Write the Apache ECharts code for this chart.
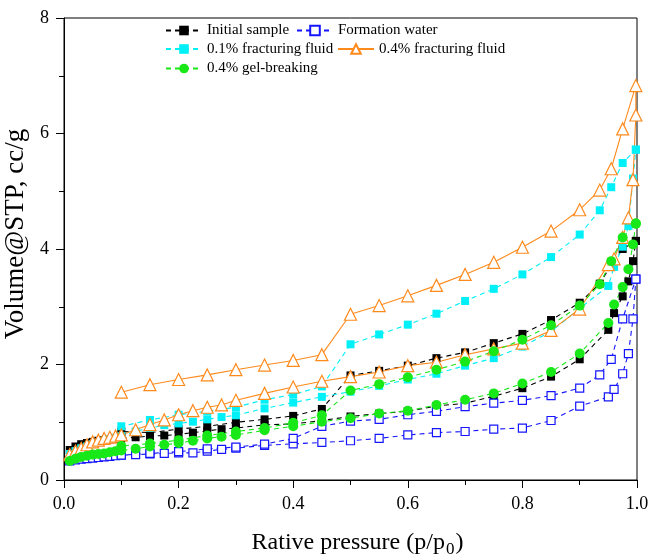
<!DOCTYPE html>
<html>
<head>
<meta charset="utf-8">
<script src="https://cdn.jsdelivr.net/npm/echarts@6/dist/echarts.min.js"></script>
<style>
  html, body { margin: 0; padding: 0; background: #fff; }
  #chart { width: 652px; height: 554px; }
</style>
</head>
<body>
<div id="chart"></div>
<script>
// Relative pressure steps: adsorption branch (rising) and desorption branch (falling)
const ADS_P = [0.01, 0.02, 0.03, 0.04, 0.05, 0.06, 0.07, 0.08, 0.09, 0.10,
               0.125, 0.15, 0.175, 0.20, 0.225, 0.25, 0.275, 0.30,
               0.35, 0.40, 0.45, 0.50, 0.55, 0.60, 0.65, 0.70, 0.75, 0.80, 0.85, 0.90,
               0.95, 0.96, 0.975, 0.985, 0.993, 0.998];
const DES_P = [0.998, 0.975, 0.955, 0.935, 0.90, 0.85, 0.80, 0.75, 0.70, 0.65, 0.60,
               0.55, 0.50, 0.45, 0.40, 0.35, 0.30, 0.25, 0.20, 0.15, 0.10];

// Adsorbed volume (cc/g) for each sample
const initialAds = [0.52, 0.58, 0.62, 0.64, 0.66, 0.68, 0.69, 0.70, 0.71, 0.72,
                    0.74, 0.76, 0.77, 0.79, 0.82, 0.85, 0.88, 0.90,
                    0.955, 0.97, 1.03, 1.10, 1.15, 1.19, 1.28, 1.33, 1.45, 1.59, 1.79, 2.09,
                    2.60, 2.89, 3.18, 3.44, 3.79, 4.14];
const initialDes = [4.14, 4.00, 3.72, 3.40, 3.07, 2.77, 2.53, 2.37, 2.21, 2.11, 1.98,
                    1.89, 1.81, 1.23, 1.11, 1.05, 1.00, 0.93, 0.88, 0.82, 0.84];

const waterAds = [0.33, 0.35, 0.36, 0.37, 0.38, 0.39, 0.40, 0.41, 0.42, 0.43,
                  0.44, 0.45, 0.46, 0.47, 0.47, 0.50, 0.53, 0.55,
                  0.60, 0.625, 0.65, 0.68, 0.72, 0.78, 0.82, 0.84, 0.88, 0.90, 1.03, 1.28,
                  1.44, 1.57, 1.84, 2.19, 2.79, 3.48];
const waterDes = [3.48, 2.79, 2.09, 1.82, 1.59, 1.46, 1.38, 1.33, 1.27, 1.19, 1.13,
                  1.05, 1.02, 0.93, 0.72, 0.62, 0.57, 0.54, 0.49, 0.46, 0.43];

const frac01Ads = [0.45, 0.50, 0.55, 0.58, 0.62, 0.65, 0.68, 0.71, 0.73, 0.76,
                   0.84, 0.90, 0.95, 0.98, 1.01, 1.05, 1.09, 1.12,
                   1.24, 1.34, 1.44, 1.53, 1.63, 1.74, 1.84, 1.98, 2.11, 2.31, 2.57, 2.97,
                   3.36, 3.69, 4.04, 4.40, 5.22, 5.72];
const frac01Des = [5.72, 5.49, 5.07, 4.67, 4.25, 3.86, 3.56, 3.31, 3.10, 2.88, 2.69,
                   2.52, 2.35, 1.62, 1.48, 1.39, 1.26, 1.19, 1.13, 1.04, 0.93];

const frac04Ads = [0.44, 0.50, 0.55, 0.61, 0.66, 0.69, 0.72, 0.74, 0.76, 0.78,
                   0.87, 0.96, 1.04, 1.13, 1.20, 1.26, 1.30, 1.38,
                   1.50, 1.61, 1.71, 1.79, 1.87, 1.98, 2.04, 2.17, 2.27, 2.37, 2.59, 2.96,
                   3.73, 3.83, 4.20, 4.54, 5.20, 6.32];
const frac04Des = [6.83, 6.08, 5.39, 5.02, 4.68, 4.31, 4.03, 3.77, 3.56, 3.37, 3.19,
                   3.02, 2.87, 2.17, 2.07, 1.99, 1.91, 1.82, 1.74, 1.65, 1.52];

const gelAds = [0.33, 0.37, 0.40, 0.42, 0.44, 0.45, 0.46, 0.48, 0.50, 0.51,
                0.54, 0.58, 0.61, 0.64, 0.68, 0.72, 0.75, 0.78,
                0.86, 0.93, 1.01, 1.07, 1.15, 1.20, 1.30, 1.39, 1.50, 1.67, 1.87, 2.19,
                2.72, 3.04, 3.34, 3.65, 4.08, 4.44];
const gelDes = [4.44, 4.20, 3.79, 3.39, 3.02, 2.68, 2.43, 2.23, 2.05, 1.91, 1.78,
                1.66, 1.55, 1.12, 0.99, 0.90, 0.84, 0.77, 0.69, 0.63, 0.59];

const SERIES_NAMES = ['Initial sample', 'Formation water', '0.1% fracturing fluid',
                      '0.4% fracturing fluid', '0.4% gel-breaking'];
const X_TICKS = ['0.0', '0.2', '0.4', '0.6', '0.8', '1.0'];

// one closed isotherm loop: adsorption up, then desorption back down
function loop(ads, des) {
  return ADS_P.map((p, i) => [p, ads[i]]).concat(DES_P.map((p, i) => [p, des[i]]));
}

const SERIF = "'Liberation Serif', 'Times New Roman', serif";

function isoSeries(name, ads, des, color, symbol, size, hollow, dashed) {
  return {
    name: name,
    type: 'line',
    data: loop(ads, des),
    symbol: symbol,
    symbolSize: size,
    showAllSymbol: true,
    lineStyle: { color: color, width: 1.1, type: dashed ? [5, 4] : 'solid' },
    itemStyle: hollow
      ? { color: '#ffffff', borderColor: color, borderWidth: 1.2 }
      : { color: color, borderWidth: 0 },
    emphasis: { disabled: true },
    z: 2
  };
}

// legend entries laid out in three rows inside the plot frame
function legendItem(name, left, top) {
  return {
    left: left, top: top, orient: 'horizontal',
    itemWidth: 36, itemHeight: 12, itemGap: 0, padding: 0,
    textStyle: { fontFamily: SERIF, fontSize: 15, color: '#000' },
    data: [name]
  };
}

const chart = echarts.init(document.getElementById('chart'), null, { renderer: 'canvas' });

chart.setOption({
  animation: false,
  backgroundColor: '#ffffff',
  textStyle: { fontFamily: SERIF },
  grid: {
    left: 64, right: 15, top: 18, bottom: 74,
    outerBoundsMode: 'none',
    containLabel: false,
    show: true, borderColor: '#000', borderWidth: 1, backgroundColor: 'transparent'
  },
  legend: [
    legendItem(SERIES_NAMES[0], 165, 23),
    legendItem(SERIES_NAMES[1], 296, 23),
    legendItem(SERIES_NAMES[2], 165, 41.5),
    legendItem(SERIES_NAMES[3], 337, 41.5),
    legendItem(SERIES_NAMES[4], 165, 61)
  ],
  xAxis: {
    type: 'value', min: 0, max: 1, interval: 0.2,
    name: '{a|Rative pressure (p/p}{s|0}{a|)}',
    nameLocation: 'middle', nameGap: 47,
    nameTextStyle: {
      padding: [0, 0, 0, 14],
      rich: {
        a: { fontFamily: SERIF, fontSize: 24, color: '#000' },
        s: { fontFamily: SERIF, fontSize: 17, color: '#000', padding: [14, 1, 0, 1] }
      }
    },
    axisLine: { show: true, lineStyle: { color: '#000', width: 1 } },
    axisTick: { show: true, length: 8, lineStyle: { color: '#000' } },
    minorTick: { show: true, splitNumber: 2, length: 5, lineStyle: { color: '#000' } },
    splitLine: { show: false },
    axisLabel: {
      fontFamily: SERIF, fontSize: 18, color: '#000', margin: 15,
      formatter: v => X_TICKS[Math.round(v / 0.2)]
    }
  },
  yAxis: {
    type: 'value', min: 0, max: 8, interval: 2,
    name: 'Volume@STP, cc/g',
    nameLocation: 'middle', nameGap: 26, nameRotate: 90,
    nameTextStyle: { fontFamily: SERIF, fontSize: 27, color: '#000', padding: [0, 0, 0, 30] },
    axisLine: { show: true, lineStyle: { color: '#000', width: 1 } },
    axisTick: { show: true, length: 8, lineStyle: { color: '#000' } },
    minorTick: { show: true, splitNumber: 2, length: 5, lineStyle: { color: '#000' } },
    splitLine: { show: false },
    axisLabel: { fontFamily: SERIF, fontSize: 18, color: '#000', margin: 15 }
  },
  series: [
    isoSeries(SERIES_NAMES[0], initialAds, initialDes, '#000000', 'rect', 8, false, true),
    isoSeries(SERIES_NAMES[1], waterAds, waterDes, '#1515ff', 'rect', 8, true, true),
    isoSeries(SERIES_NAMES[2], frac01Ads, frac01Des, '#00f0f8', 'rect', 8, false, true),
    isoSeries(SERIES_NAMES[3], frac04Ads, frac04Des, '#ff8a1c', 'triangle', 12, true, false),
    isoSeries(SERIES_NAMES[4], gelAds, gelDes, '#18e818', 'circle', 10, false, true)
  ]
});
</script>
</body>
</html>
